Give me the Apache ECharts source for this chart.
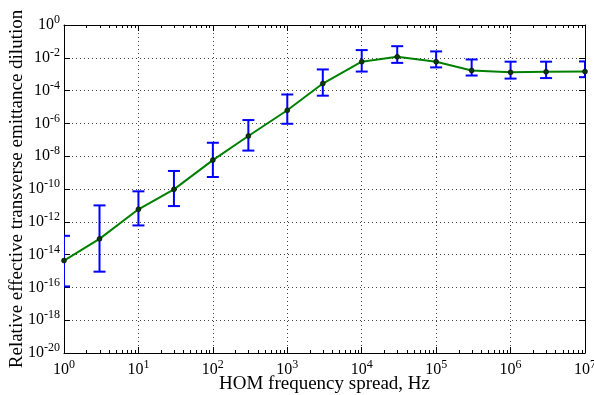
<!DOCTYPE html>
<html>
<head>
<meta charset="utf-8">
<script src="https://cdn.jsdelivr.net/npm/echarts@6/dist/echarts.min.js"></script>
<style>
html, body { margin: 0; padding: 0; background: #fff; }
#main { width: 594px; height: 395px; }
</style>
</head>
<body>
<div id="main"></div>
<script>
// HOM frequency spread (Hz)
var freq = [1, 3, 10, 30, 100, 300, 1e3, 3e3, 1e4, 3e4, 1e5, 3e5, 1e6, 3e6, 1e7];
// emittance dilution, central value
var dilution = [4.3e-15, 9.1e-14, 5.8e-12, 9.5e-11, 5.8e-9, 1.7e-7, 6.3e-6, 2.7e-4, 5.8e-3, 1.15e-2, 5.8e-3, 1.7e-3, 1.3e-3, 1.4e-3, 1.45e-3];
// error bar upper / lower ends
var errHigh = [1.4e-13, 1e-11, 7.2e-11, 1.26e-9, 6.6e-8, 1.6e-6, 5.8e-5, 1.95e-3, 2.95e-2, 5.1e-2, 2.45e-2, 7.9e-3, 5.8e-3, 5.8e-3, 6e-3];
var errLow = [1.15e-16, 9.1e-16, 6e-13, 9.1e-12, 5.4e-10, 2.2e-8, 9.5e-7, 4.9e-5, 1.45e-3, 4.9e-3, 2.6e-3, 8.3e-4, 5.4e-4, 5.8e-4, 6.6e-4];
// minor log ticks within one decade
var minorMult = [2, 3, 4, 5, 6, 7, 8, 9];

var serif = 'Liberation Serif';

function powLabel(v) {
    var e = Math.round(Math.log(v) / Math.LN10);
    return '{b|10}{s|' + e + '}';
}
var richTxt = {
    b: { fontFamily: serif, fontSize: 16, color: '#000' },
    s: { fontFamily: serif, fontSize: 12, color: '#000', padding: [0, 0, 10, 0] }
};

var lineData = [];
var errData = [];
for (var i = 0; i < freq.length; i++) {
    lineData.push([freq[i], dilution[i]]);
    errData.push([freq[i], errLow[i], errHigh[i]]);
}
var minorData = [];
for (var d = 0; d < 7; d++) {
    for (var j = 0; j < minorMult.length; j++) {
        minorData.push([minorMult[j] * Math.pow(10, d), 1e-10]);
    }
}

var option = {
    animation: false,
    backgroundColor: '#fff',
    grid: { left: 64, right: 9, top: 25, bottom: 42, outerBoundsMode: 'none', containLabel: false },
    xAxis: [
        {
            type: 'log', logBase: 10, min: 1, max: 1e7, interval: 1,
            name: 'HOM frequency spread, Hz',
            nameLocation: 'middle', nameGap: 22, nameMoveOverlap: false,
            nameTextStyle: { fontFamily: serif, fontSize: 19, color: '#000' },
            axisLine: { lineStyle: { color: '#000', width: 1 } },
            axisTick: { inside: true, length: 6, lineStyle: { color: '#000' } },
            axisLabel: { formatter: powLabel, rich: richTxt, margin: 6 },
            splitLine: { show: true, lineStyle: { color: '#444', type: [1, 3], width: 1 } }
        },
        {
            type: 'log', logBase: 10, min: 1, max: 1e7, interval: 1, position: 'top',
            axisLine: { lineStyle: { color: '#000', width: 1 } },
            axisTick: { inside: true, length: 6, lineStyle: { color: '#000' } },
            axisLabel: { show: false },
            splitLine: { show: false }
        }
    ],
    yAxis: [
        {
            type: 'log', logBase: 10, min: 1e-20, max: 1, interval: 2,
            name: 'Relative effective transverse emittance dilution',
            nameLocation: 'middle', nameGap: 37, nameMoveOverlap: false,
            nameTextStyle: { fontFamily: serif, fontSize: 19, color: '#000' },
            axisLine: { lineStyle: { color: '#000', width: 1 } },
            axisTick: { inside: true, length: 6, lineStyle: { color: '#000' } },
            axisLabel: { formatter: powLabel, rich: richTxt, margin: 4 },
            splitLine: { show: true, lineStyle: { color: '#444', type: [1, 3], width: 1 } }
        },
        {
            type: 'log', logBase: 10, min: 1e-20, max: 1, interval: 2, position: 'right',
            axisLine: { lineStyle: { color: '#000', width: 1 } },
            axisTick: { inside: true, length: 6, lineStyle: { color: '#000' } },
            axisLabel: { show: false },
            splitLine: { show: false }
        }
    ],
    series: [
        {
            // minor ticks on bottom and top spines
            type: 'custom',
            silent: true,
            data: minorData,
            renderItem: function (params, api) {
                var p = api.coord([api.value(0), api.value(1)]);
                var cs = params.coordSys;
                var x = Math.round(p[0]) + 0.5;
                var yb = cs.y + cs.height;
                var yt = cs.y;
                return {
                    type: 'group',
                    children: [
                        { type: 'line', shape: { x1: x, y1: yb, x2: x, y2: yb - 3 }, style: { stroke: '#000', lineWidth: 1 } },
                        { type: 'line', shape: { x1: x, y1: yt, x2: x, y2: yt + 3 }, style: { stroke: '#000', lineWidth: 1 } }
                    ]
                };
            }
        },
        {
            type: 'custom',
            data: errData,
            z: 2,
            clip: true,
            renderItem: function (params, api) {
                var x = api.value(0);
                var lo = api.coord([x, api.value(1)]);
                var hi = api.coord([x, api.value(2)]);
                var half = 6;
                var st = { stroke: '#0000ff', lineWidth: 2 };
                return {
                    type: 'group',
                    children: [
                        { type: 'line', shape: { x1: lo[0], y1: lo[1], x2: hi[0], y2: hi[1] }, style: st },
                        { type: 'line', shape: { x1: lo[0] - half, y1: lo[1], x2: lo[0] + half, y2: lo[1] }, style: st },
                        { type: 'line', shape: { x1: hi[0] - half, y1: hi[1], x2: hi[0] + half, y2: hi[1] }, style: st }
                    ]
                };
            }
        },
        {
            type: 'line',
            data: lineData,
            z: 3,
            symbol: 'circle',
            symbolSize: 5,
            itemStyle: { color: '#0a3a0a', borderColor: '#000', borderWidth: 0.5 },
            lineStyle: { color: '#008000', width: 2 }
        }
    ]
};

var myChart = echarts.init(document.getElementById('main'));
myChart.setOption(option);
</script>
</body>
</html>
